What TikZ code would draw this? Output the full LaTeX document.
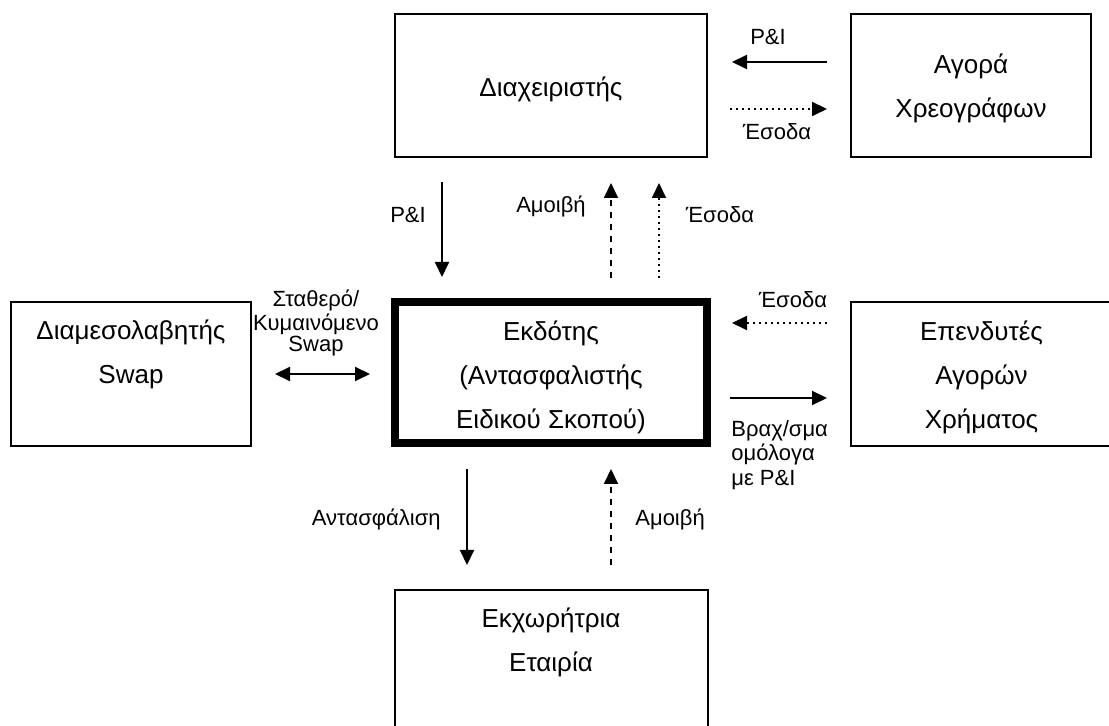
\documentclass[tikz,border=0pt]{standalone}
\usepackage{fontspec}
\setmainfont{Liberation Sans}
\usetikzlibrary{arrows.meta}

\begin{document}
\begin{tikzpicture}[x=0.5pt,y=-0.5pt,
        box/.style={
        draw=black, line width=1pt,
        inner sep=0pt, align=center, text depth=2pt,
        font=\fontsize{13}{22}\selectfont},
        lbl/.style={inner sep=0pt, font=\fontsize{11}{12}\selectfont},
        arr/.style={line width=1pt, -{Triangle[length=7.5pt,width=7pt]}},
        ]

        \useasboundingbox (0,0) rectangle (1109,726);

        \node (diax) [box, text height=12.8pt, minimum width=156pt, minimum height=71.5pt] at (551,85.5) {Διαχειριστής};
        \node (agora) [box, text height=33.8pt, minimum width=120pt, minimum height=71.5pt] at (971,85.5) {Αγορά\\Χρεογράφων};
        \node (swapb) [box, text height=11.3pt, minimum width=120pt, minimum height=72pt] at (131,374) {Διαμεσολαβητής\\Swap};
        \node (ekd) [box, text height=57.8pt, line width=4pt, minimum width=156pt, minimum height=70.5pt] at (551,372.5) {Εκδότης\\(Αντασφαλιστής\\Ειδικού Σκοπού)};
        \node (epend) [box, text height=56.8pt, minimum width=130.5pt, minimum height=72pt] at (981.5,374) {Επενδυτές\\Αγορών\\Χρήματος};
        \node (ekx) [box, text height=11.3pt, minimum width=156.5pt, minimum height=72pt] at (551,662) {Εκχωρήτρια\\Εταιρία};

        % top
        \draw[arr, shorten <=11.5pt, shorten >=12pt] (agora.west |- 0,62) -- (diax.east |- 0,62);
        \draw[arr, dotted, shorten <=11pt, shorten >=11.5pt] (diax.east |- 0,109) -- (agora.west |- 0,109);
        \node (pi1) [lbl, anchor=base] at (768,45) {P\&I};
        \node (es1) [lbl, anchor=base] at (777,140) {Έσοδα};

        \draw[arr, shorten <=12pt, shorten >=10.5pt] (diax.south -| 442,0) -- (ekd.north -| 442,0);
        \draw[arr, dashed, shorten <=10pt, shorten >=12.5pt] (ekd.north -| 611,0) -- (diax.south -| 611,0);
        \draw[arr, dotted, shorten <=10pt, shorten >=12.5pt] (ekd.north -| 659,0) -- (diax.south -| 659,0);
        \node (pi2) [lbl, anchor=base] at (408,223) {P\&I};
        \node (am1) [lbl, anchor=base] at (551,213) {Αμοιβή};
        \node (es2) [lbl, anchor=base] at (720,223) {Έσοδα};

        % sides
        \draw[line width=1pt, {Triangle[length=7.5pt,width=7pt]}-{Triangle[length=7.5pt,width=7pt]},
            shorten <=11.5pt, shorten >=10.5pt] (swapb.east |- 0,374) -- (ekd.west |- 0,374);
        \node (fl) [lbl, align=center, font=\fontsize{11}{10.5}\selectfont] at (316,323) {Σταθερό/\\Κυμαινόμενο\\Swap};

        \draw[arr, dotted, shorten <=11.5pt, shorten >=10.5pt] (epend.west |- 0,323) -- (ekd.east |- 0,323);
        \draw[arr, shorten <=9.5pt, shorten >=11.5pt] (ekd.east |- 0,398) -- (epend.west |- 0,398);
        \node (es3) [lbl, anchor=base] at (793,308) {Έσοδα};
        \node (om) [lbl, align=left, anchor=west, font=\fontsize{11}{12.25}\selectfont] at (731,455) {Βραχ/σμα\\ομόλογα\\με P\&I};

        % bottom
        \draw[arr, shorten <=11pt, shorten >=12pt] (ekd.south -| 467,0) -- (ekx.north -| 467,0);
        \draw[arr, dashed, shorten <=12pt, shorten >=11pt] (ekx.north -| 611,0) -- (ekd.south -| 611,0);
        \node (ant) [lbl, anchor=base east] at (441,526) {Αντασφάλιση};
        \node (am2) [lbl, anchor=base west] at (635,526) {Αμοιβή};
    \end{tikzpicture}
\end{document}
